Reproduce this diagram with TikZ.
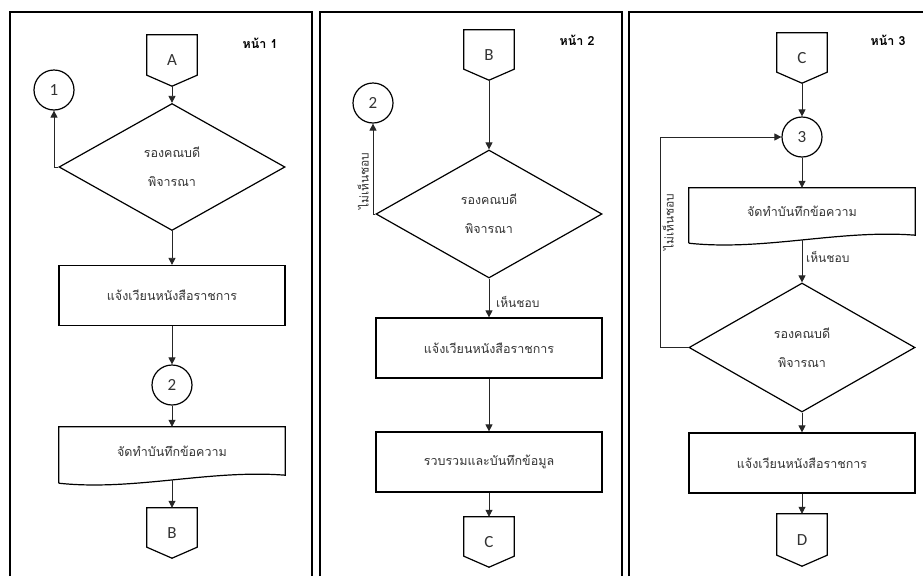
\documentclass[tikz,border=0pt]{standalone}
\usepackage{fontspec}
\setmainfont{Carlito}
\newfontfamily\thaifont[Script=Thai]{Loma}
\usetikzlibrary{shapes.geometric,arrows.meta}

\begin{document}
\begin{tikzpicture}[x=1pt, y=-1pt,
    frame/.style={draw=black, line width=1.4pt},
    shapeline/.style={draw=black, line width=1.2pt},
    flow/.style={shapeline, text=black!80, font=\thaifont\fontsize{12.5}{14}\selectfont},
    boxnode/.style={flow, rectangle, minimum width=226pt, minimum height=60pt},
    docnode/.style={rectangle, minimum width=226pt, minimum height=48pt, text=black!80,
        font=\thaifont\fontsize{12.5}{14}\selectfont},
    decide/.style={flow, diamond, minimum width=226pt, minimum height=127pt, inner sep=0pt,
        align=center, font=\thaifont\fontsize{12.5}{29}\selectfont},
    joint/.style={flow, circle, minimum size=40pt, inner sep=0pt, font=\fontsize{17}{17}\selectfont},
    offpage/.style={rectangle, minimum width=50pt, minimum height=50pt, inner sep=0pt,
        text=black!80, font=\fontsize{17}{17}\selectfont},
    head/.style={font=\thaifont\bfseries\fontsize{12.5}{14}\selectfont},
    note/.style={text=black!80, inner sep=1pt, font=\thaifont\fontsize{12}{14}\selectfont},
    line/.style={draw=black!85, line width=0.8pt, -{Triangle[length=7pt,width=7pt]}}]
    \useasboundingbox (0,0) rectangle (923,576);
    % panel frames
    \draw[frame] (10,576) |- (312,12) -- (312,576);
    \draw[frame] (320,576) |- (622,12) -- (622,576);
    \draw[frame] (629,576) |- (923,12);

    % page 1
    \node[head] (h1) at (260,43) {หน้า 1};
    \node[offpage, minimum height=51pt] (A) at (172,60.5) {A};
    \node[joint] (c1) at (54,90) {1};
    \node[decide] (d1) at (172,167) {รองคณบดี\\พิจารณา};
    \node[boxnode] (r1) at (172,295.5) {แจ้งเวียนหนังสือราชการ};
    \node[joint] (c2) at (172,385) {2};
    \node[docnode] (doc1) at (172,451) {จัดทำบันทึกข้อความ};
    \node[offpage] (B1) at (172,533) {B};

    % page 2
    \node[head] (h2) at (577,40) {หน้า 2};
    \node[offpage] (B2) at (489,55) {B};
    \node[joint] (c2b) at (373,103) {2};
    \node[decide, minimum height=128pt] (d2) at (489,214) {รองคณบดี\\พิจารณา};
    \node[boxnode] (r2) at (489,348) {แจ้งเวียนหนังสือราชการ};
    \node[boxnode] (r3) at (489,462) {รวบรวมและบันทึกข้อมูล};
    \node[offpage] (C2) at (489,542) {C};
    \node[note, rotate=90] (n2) at (363,181) {ไม่เห็นชอบ};
    \node[note, anchor=west] (y2) at (495,302) {เห็นชอบ};

    % page 3
    \node[head] (h3) at (888,40) {หน้า 3};
    \node[offpage] (C3) at (802,58) {C};
    \node[joint] (c3) at (802,137) {3};
    \node[docnode, minimum height=47pt] (doc3) at (802,211.5) {จัดทำบันทึกข้อความ};
    \node[decide, minimum height=129pt] (d3) at (802,347.5) {รองคณบดี\\พิจารณา};
    \node[boxnode] (r4) at (802,463) {แจ้งเวียนหนังสือราชการ};
    \node[offpage, minimum height=52pt] (D3) at (802,540) {D};
    \node[note, rotate=90] (n3) at (668,222) {ไม่เห็นชอบ};
    \node[note, anchor=west] (y3) at (805,257) {เห็นชอบ};
    \coordinate (k3) at (660,137);

    % off-page connectors and documents
    \foreach \n in {A,B1,B2,C2,C3,D3}
        \draw[shapeline] (\n.north west) -- (\n.north east) -- ([yshift=11pt]\n.south east)
            -- (\n.south) -- ([yshift=11pt]\n.south west) -- cycle;
    \foreach \n in {doc1,doc3}
        \draw[shapeline] ([yshift=-8pt]\n.south west) -- (\n.north west) -- (\n.north east)
            -- (\n.south east) .. controls ([xshift=-75pt,yshift=6pt]\n.south east)
            and ([xshift=75pt,yshift=-16pt]\n.south west) .. ([yshift=-8pt]\n.south west);

    % arrows
    \draw[line] (A.south) -- (d1.north);
    \draw[line] (d1.west) -| (c1.south);
    \draw[line] (d1.south) -- (r1.north);
    \draw[line] (r1.south) -- (c2.north);
    \draw[line] (c2.south) -- (doc1.north);
    \draw[line] ([yshift=-5pt]doc1.south) -- (B1.north);

    \draw[line] (B2.south) -- (d2.north);
    \draw[line] (d2.west) -| (c2b.south);
    \draw[line] (d2.south) -- (r2.north);
    \draw[line] (r2.south) -- (r3.north);
    \draw[line] (r3.south) -- (C2.north);

    \draw[line] (C3.south) -- (c3.north);
    \draw[line] (c3.south) -- (doc3.north);
    \draw[line] ([yshift=-5pt]doc3.south) -- (d3.north);
    \draw[line] (d3.west) -| (k3) -- (c3.west);
    \draw[line] (d3.south) -- (r4.north);
    \draw[line] (r4.south) -- (D3.north);
\end{tikzpicture}
\end{document}
